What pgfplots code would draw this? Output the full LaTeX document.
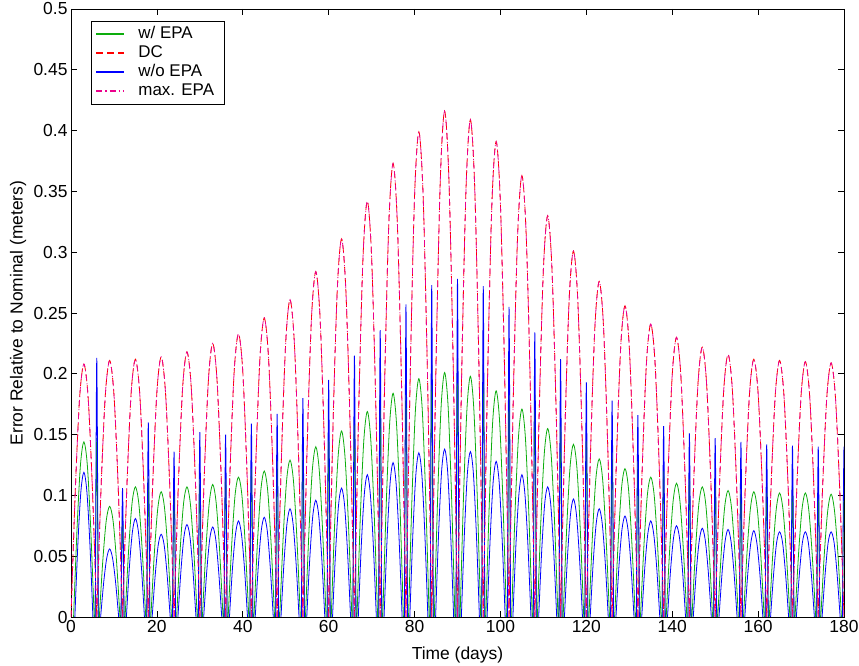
\documentclass[border=0pt]{standalone}
\usepackage{fontspec}
\setmainfont{Liberation Sans}
\usepackage{pgfplots}
\usepackage{pgfplotstable}
\pgfplotsset{compat=1.18}

\definecolor{epagreen}{rgb}{0.05,0.68,0.05}

% Error arches of the DC / max. EPA solutions (one arch per 6-day orbit cycle)
\pgfplotstableread[row sep=\\]{
x y\\
0 0\\1 .104\\2 .180\\3 .208\\4 .180\\5 .104\\6 0\\0 nan\\
6 0\\7 .106\\8 .183\\9 .211\\10 .183\\11 .106\\12 0\\0 nan\\
12 0\\13 .106\\14 .184\\15 .212\\16 .184\\17 .106\\18 0\\0 nan\\
18 0\\19 .107\\20 .185\\21 .214\\22 .185\\23 .107\\24 0\\0 nan\\
24 0\\25 .109\\26 .189\\27 .218\\28 .189\\29 .109\\30 0\\0 nan\\
30 0\\31 .113\\32 .195\\33 .225\\34 .195\\35 .113\\36 0\\0 nan\\
36 0\\37 .117\\38 .202\\39 .233\\40 .202\\41 .117\\42 0\\0 nan\\
42 0\\43 .123\\44 .213\\45 .246\\46 .213\\47 .123\\48 0\\0 nan\\
48 0\\49 .131\\50 .226\\51 .261\\52 .226\\53 .131\\54 0\\0 nan\\
54 0\\55 .142\\56 .246\\57 .284\\58 .246\\59 .142\\60 0\\0 nan\\
60 0\\61 .156\\62 .269\\63 .311\\64 .269\\65 .156\\66 0\\0 nan\\
66 0\\67 .171\\68 .296\\69 .342\\70 .296\\71 .171\\72 0\\0 nan\\
72 0\\73 .187\\74 .323\\75 .373\\76 .323\\77 .187\\78 0\\0 nan\\
78 0\\79 .200\\80 .346\\81 .399\\82 .346\\83 .200\\84 0\\0 nan\\
84 0\\85 .208\\86 .360\\87 .416\\88 .360\\89 .208\\90 0\\0 nan\\
90 0\\91 .205\\92 .354\\93 .409\\94 .354\\95 .205\\96 0\\0 nan\\
96 0\\97 .196\\98 .339\\99 .391\\100 .339\\101 .196\\102 0\\0 nan\\
102 0\\103 .182\\104 .314\\105 .363\\106 .314\\107 .182\\108 0\\0 nan\\
108 0\\109 .165\\110 .286\\111 .330\\112 .286\\113 .165\\114 0\\0 nan\\
114 0\\115 .151\\116 .261\\117 .301\\118 .261\\119 .151\\120 0\\0 nan\\
120 0\\121 .138\\122 .239\\123 .276\\124 .239\\125 .138\\126 0\\0 nan\\
126 0\\127 .128\\128 .222\\129 .256\\130 .222\\131 .128\\132 0\\0 nan\\
132 0\\133 .121\\134 .209\\135 .241\\136 .209\\137 .121\\138 0\\0 nan\\
138 0\\139 .115\\140 .199\\141 .230\\142 .199\\143 .115\\144 0\\0 nan\\
144 0\\145 .111\\146 .192\\147 .222\\148 .192\\149 .111\\150 0\\0 nan\\
150 0\\151 .108\\152 .187\\153 .216\\154 .187\\155 .108\\156 0\\0 nan\\
156 0\\157 .106\\158 .184\\159 .212\\160 .184\\161 .106\\162 0\\0 nan\\
162 0\\163 .106\\164 .183\\165 .211\\166 .183\\167 .106\\168 0\\0 nan\\
168 0\\169 .105\\170 .182\\171 .210\\172 .182\\173 .105\\174 0\\0 nan\\
174 0\\175 .105\\176 .181\\177 .209\\178 .181\\179 .105\\180 0\\
}\dcdata

% With EPA: hump in each cycle plus a narrow spike at each cycle boundary
\pgfplotstableread[row sep=\\]{
x y\\
.6 0\\1.4 .072\\2.2 .125\\3 .144\\3.8 .125\\4.6 .072\\5.4 0\\0 nan\\5.65 0\\6 .147\\6.35 0\\0 nan\\
6.6 0\\7.4 .046\\8.2 .079\\9 .091\\9.8 .079\\10.6 .046\\11.4 0\\0 nan\\11.65 0\\12 .085\\12.35 0\\0 nan\\
12.6 0\\13.4 .054\\14.2 .093\\15 .107\\15.8 .093\\16.6 .054\\17.4 0\\0 nan\\17.65 0\\18 .114\\18.35 0\\0 nan\\
18.6 0\\19.4 .052\\20.2 .089\\21 .103\\21.8 .089\\22.6 .052\\23.4 0\\0 nan\\23.65 0\\24 .110\\24.35 0\\0 nan\\
24.6 0\\25.4 .054\\26.2 .093\\27 .107\\27.8 .093\\28.6 .054\\29.4 0\\0 nan\\29.65 0\\30 .114\\30.35 0\\0 nan\\
30.6 0\\31.4 .055\\32.2 .094\\33 .109\\33.8 .094\\34.6 .055\\35.4 0\\0 nan\\35.65 0\\36 .117\\36.35 0\\0 nan\\
36.6 0\\37.4 .058\\38.2 .100\\39 .115\\39.8 .100\\40.6 .058\\41.4 0\\0 nan\\41.65 0\\42 .123\\42.35 0\\0 nan\\
42.6 0\\43.4 .060\\44.2 .104\\45 .120\\45.8 .104\\46.6 .060\\47.4 0\\0 nan\\47.65 0\\48 .129\\48.35 0\\0 nan\\
48.6 0\\49.4 .065\\50.2 .112\\51 .129\\51.8 .112\\52.6 .065\\53.4 0\\0 nan\\53.65 0\\54 .139\\54.35 0\\0 nan\\
54.6 0\\55.4 .070\\56.2 .121\\57 .140\\57.8 .121\\58.6 .070\\59.4 0\\0 nan\\59.65 0\\60 .150\\60.35 0\\0 nan\\
60.6 0\\61.4 .077\\62.2 .132\\63 .153\\63.8 .132\\64.6 .077\\65.4 0\\0 nan\\65.65 0\\66 .165\\66.35 0\\0 nan\\
66.6 0\\67.4 .085\\68.2 .146\\69 .169\\69.8 .146\\70.6 .085\\71.4 0\\0 nan\\71.65 0\\72 .183\\72.35 0\\0 nan\\
72.6 0\\73.4 .092\\74.2 .159\\75 .184\\75.8 .159\\76.6 .092\\77.4 0\\0 nan\\77.65 0\\78 .199\\78.35 0\\0 nan\\
78.6 0\\79.4 .098\\80.2 .170\\81 .196\\81.8 .170\\82.6 .098\\83.4 0\\0 nan\\83.65 0\\84 .211\\84.35 0\\0 nan\\
84.6 0\\85.4 .101\\86.2 .174\\87 .201\\87.8 .174\\88.6 .101\\89.4 0\\0 nan\\89.65 0\\90 .216\\90.35 0\\0 nan\\
90.6 0\\91.4 .099\\92.2 .171\\93 .198\\93.8 .171\\94.6 .099\\95.4 0\\0 nan\\95.65 0\\96 .212\\96.35 0\\0 nan\\
96.6 0\\97.4 .093\\98.2 .161\\99 .186\\99.8 .161\\100.6 .093\\101.4 0\\0 nan\\101.65 0\\102 .199\\102.35 0\\0 nan\\
102.6 0\\103.4 .086\\104.2 .148\\105 .171\\105.8 .148\\106.6 .086\\107.4 0\\0 nan\\107.65 0\\108 .183\\108.35 0\\0 nan\\
108.6 0\\109.4 .078\\110.2 .134\\111 .155\\111.8 .134\\112.6 .078\\113.4 0\\0 nan\\113.65 0\\114 .166\\114.35 0\\0 nan\\
114.6 0\\115.4 .071\\116.2 .123\\117 .142\\117.8 .123\\118.6 .071\\119.4 0\\0 nan\\119.65 0\\120 .151\\120.35 0\\0 nan\\
120.6 0\\121.4 .065\\122.2 .113\\123 .130\\123.8 .113\\124.6 .065\\125.4 0\\0 nan\\125.65 0\\126 .139\\126.35 0\\0 nan\\
126.6 0\\127.4 .061\\128.2 .106\\129 .122\\129.8 .106\\130.6 .061\\131.4 0\\0 nan\\131.65 0\\132 .129\\132.35 0\\0 nan\\
132.6 0\\133.4 .058\\134.2 .100\\135 .115\\135.8 .100\\136.6 .058\\137.4 0\\0 nan\\137.65 0\\138 .122\\138.35 0\\0 nan\\
138.6 0\\139.4 .055\\140.2 .095\\141 .110\\141.8 .095\\142.6 .055\\143.4 0\\0 nan\\143.65 0\\144 .117\\144.35 0\\0 nan\\
144.6 0\\145.4 .054\\146.2 .093\\147 .107\\147.8 .093\\148.6 .054\\149.4 0\\0 nan\\149.65 0\\150 .114\\150.35 0\\0 nan\\
150.6 0\\151.4 .052\\152.2 .090\\153 .104\\153.8 .090\\154.6 .052\\155.4 0\\0 nan\\155.65 0\\156 .111\\156.35 0\\0 nan\\
156.6 0\\157.4 .052\\158.2 .089\\159 .103\\159.8 .089\\160.6 .052\\161.4 0\\0 nan\\161.65 0\\162 .110\\162.35 0\\0 nan\\
162.6 0\\163.4 .051\\164.2 .088\\165 .102\\165.8 .088\\166.6 .051\\167.4 0\\0 nan\\167.65 0\\168 .109\\168.35 0\\0 nan\\
168.6 0\\169.4 .051\\170.2 .088\\171 .102\\171.8 .088\\172.6 .051\\173.4 0\\0 nan\\173.65 0\\174 .108\\174.35 0\\0 nan\\
174.6 0\\175.4 .051\\176.2 .087\\177 .101\\177.8 .087\\178.6 .051\\179.4 0\\0 nan\\179.65 0\\180 .108\\180.35 0\\
}\withepa

% Without EPA: narrower humps and taller spikes at the cycle boundaries
\pgfplotstableread[row sep=\\]{
x y\\
.9 0\\1.6 .060\\2.3 .103\\3 .119\\3.7 .103\\4.4 .060\\5.1 0\\0 nan\\5.65 0\\6 .213\\6.35 0\\0 nan\\
6.9 0\\7.6 .028\\8.3 .048\\9 .056\\9.7 .048\\10.4 .028\\11.1 0\\0 nan\\11.65 0\\12 .106\\12.35 0\\0 nan\\
12.9 0\\13.6 .041\\14.3 .070\\15 .081\\15.7 .070\\16.4 .041\\17.1 0\\0 nan\\17.65 0\\18 .160\\18.35 0\\0 nan\\
18.9 0\\19.6 .034\\20.3 .059\\21 .068\\21.7 .059\\22.4 .034\\23.1 0\\0 nan\\23.65 0\\24 .136\\24.35 0\\0 nan\\
24.9 0\\25.6 .038\\26.3 .066\\27 .076\\27.7 .066\\28.4 .038\\29.1 0\\0 nan\\29.65 0\\30 .152\\30.35 0\\0 nan\\
30.9 0\\31.6 .037\\32.3 .064\\33 .074\\33.7 .064\\34.4 .037\\35.1 0\\0 nan\\35.65 0\\36 .150\\36.35 0\\0 nan\\
36.9 0\\37.6 .040\\38.3 .068\\39 .079\\39.7 .068\\40.4 .040\\41.1 0\\0 nan\\41.65 0\\42 .159\\42.35 0\\0 nan\\
42.9 0\\43.6 .041\\44.3 .071\\45 .082\\45.7 .071\\46.4 .041\\47.1 0\\0 nan\\47.65 0\\48 .167\\48.35 0\\0 nan\\
48.9 0\\49.6 .045\\50.3 .077\\51 .089\\51.7 .077\\52.4 .045\\53.1 0\\0 nan\\53.65 0\\54 .180\\54.35 0\\0 nan\\
54.9 0\\55.6 .048\\56.3 .083\\57 .096\\57.7 .083\\58.4 .048\\59.1 0\\0 nan\\59.65 0\\60 .195\\60.35 0\\0 nan\\
60.9 0\\61.6 .053\\62.3 .092\\63 .106\\63.7 .092\\64.4 .053\\65.1 0\\0 nan\\65.65 0\\66 .215\\66.35 0\\0 nan\\
66.9 0\\67.6 .059\\68.3 .101\\69 .117\\69.7 .101\\70.4 .059\\71.1 0\\0 nan\\71.65 0\\72 .236\\72.35 0\\0 nan\\
72.9 0\\73.6 .064\\74.3 .110\\75 .127\\75.7 .110\\76.4 .064\\77.1 0\\0 nan\\77.65 0\\78 .257\\78.35 0\\0 nan\\
78.9 0\\79.6 .068\\80.3 .117\\81 .135\\81.7 .117\\82.4 .068\\83.1 0\\0 nan\\83.65 0\\84 .273\\84.35 0\\0 nan\\
84.9 0\\85.6 .069\\86.3 .120\\87 .138\\87.7 .120\\88.4 .069\\89.1 0\\0 nan\\89.65 0\\90 .278\\90.35 0\\0 nan\\
90.9 0\\91.6 .068\\92.3 .118\\93 .136\\93.7 .118\\94.4 .068\\95.1 0\\0 nan\\95.65 0\\96 .272\\96.35 0\\0 nan\\
96.9 0\\97.6 .064\\98.3 .111\\99 .128\\99.7 .111\\100.4 .064\\101.1 0\\0 nan\\101.65 0\\102 .255\\102.35 0\\0 nan\\
102.9 0\\103.6 .059\\104.3 .101\\105 .117\\105.7 .101\\106.4 .059\\107.1 0\\0 nan\\107.65 0\\108 .234\\108.35 0\\0 nan\\
108.9 0\\109.6 .054\\110.3 .093\\111 .107\\111.7 .093\\112.4 .054\\113.1 0\\0 nan\\113.65 0\\114 .212\\114.35 0\\0 nan\\
114.9 0\\115.6 .049\\116.3 .084\\117 .097\\117.7 .084\\118.4 .049\\119.1 0\\0 nan\\119.65 0\\120 .193\\120.35 0\\0 nan\\
120.9 0\\121.6 .045\\122.3 .077\\123 .089\\123.7 .077\\124.4 .045\\125.1 0\\0 nan\\125.65 0\\126 .178\\126.35 0\\0 nan\\
126.9 0\\127.6 .042\\128.3 .072\\129 .083\\129.7 .072\\130.4 .042\\131.1 0\\0 nan\\131.65 0\\132 .166\\132.35 0\\0 nan\\
132.9 0\\133.6 .040\\134.3 .068\\135 .079\\135.7 .068\\136.4 .040\\137.1 0\\0 nan\\137.65 0\\138 .157\\138.35 0\\0 nan\\
138.9 0\\139.6 .038\\140.3 .065\\141 .075\\141.7 .065\\142.4 .038\\143.1 0\\0 nan\\143.65 0\\144 .151\\144.35 0\\0 nan\\
144.9 0\\145.6 .037\\146.3 .063\\147 .073\\147.7 .063\\148.4 .037\\149.1 0\\0 nan\\149.65 0\\150 .147\\150.35 0\\0 nan\\
150.9 0\\151.6 .036\\152.3 .062\\153 .072\\153.7 .062\\154.4 .036\\155.1 0\\0 nan\\155.65 0\\156 .144\\156.35 0\\0 nan\\
156.9 0\\157.6 .036\\158.3 .061\\159 .071\\159.7 .061\\160.4 .036\\161.1 0\\0 nan\\161.65 0\\162 .142\\162.35 0\\0 nan\\
162.9 0\\163.6 .035\\164.3 .061\\165 .070\\165.7 .061\\166.4 .035\\167.1 0\\0 nan\\167.65 0\\168 .141\\168.35 0\\0 nan\\
168.9 0\\169.6 .035\\170.3 .061\\171 .070\\171.7 .061\\172.4 .035\\173.1 0\\0 nan\\173.65 0\\174 .140\\174.35 0\\0 nan\\
174.9 0\\175.6 .035\\176.3 .061\\177 .070\\177.7 .061\\178.4 .035\\179.1 0\\0 nan\\179.65 0\\180 .140\\180.35 0\\
}\woepa

\begin{document}
\begin{tikzpicture}
% fixed canvas around the axis box
\path[use as bounding box] (-71bp,-49bp) rectangle (788bp,617bp);
\begin{axis}[
  scale only axis,
  width=773bp, height=608bp,
  xmin=0, xmax=180, ymin=0, ymax=0.5,
  xtick={0,20,40,60,80,100,120,140,160,180},
  ytick={0,0.05,0.1,0.15,0.2,0.25,0.3,0.35,0.4,0.45,0.5},
  scaled y ticks=false,
  yticklabel style={/pgf/number format/fixed, /pgf/number format/precision=2},
  /pgf/number format/assume math mode=true,
  tick align=inside,
  major tick length=6bp,
  axis line style={line width=0.7bp},
  every tick/.style={black, line width=0.7bp},
  tick label style={font=\fontsize{17.5}{20}\selectfont},
  xlabel={Time (days)},
  ylabel={Error Relative to Nominal (meters)},
  every axis x label/.style={at={(axis description cs:0.5,-0.0625)}, anchor=center,
    font=\fontsize{17.5}{20}\selectfont},
  every axis y label/.style={at={(axis description cs:-0.0685,0.5)}, anchor=center,
    rotate=90, font=\fontsize{17.5}{20}\selectfont},
  unbounded coords=jump,
  every axis plot/.append style={line width=0.8bp, smooth, no marks},
  legend image code/.code={\draw[#1, line width=1.1bp] (0bp,0.3bp) -- (28bp,0.3bp);},
  legend cell align=left,
  legend style={at={(axis description cs:0,1)}, anchor=north west,
    xshift=20bp, yshift=-12bp, line width=0.7bp, fill=white,
    font=\fontsize{17}{19.5}\selectfont, inner xsep=4.5bp, inner ysep=4bp,
    nodes={inner xsep=5.5bp, inner ysep=0bp, text height=13bp, text depth=5bp},
    column sep=8bp, row sep=1bp},
]
\addplot[draw=epagreen] table[x=x, y=y] {\withepa};
\addlegendentry{w/ EPA}
\addplot[draw=red, dash pattern=on 7bp off 4bp] table[x=x, y=y] {\dcdata};
\addlegendentry{DC}
\addplot[draw=blue] table[x=x, y=y] {\woepa};
\addlegendentry{w/o EPA}
\addplot[draw=magenta, dash pattern=on 6bp off 3bp on 1.2bp off 3bp] table[x=x, y=y] {\dcdata};
\addlegendentry{max. EPA}
\end{axis}
\end{tikzpicture}
\end{document}
